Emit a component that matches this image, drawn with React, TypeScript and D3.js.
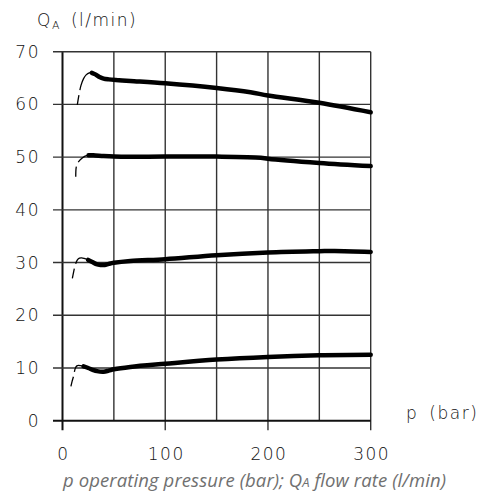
import React from 'react';
import * as d3 from 'd3';

// Axis / grid values
const xGrid = [0, 50, 100, 150, 200, 250, 300];
const xTickLabels = [0, 100, 200, 300];
const yTicks = [0, 10, 20, 30, 40, 50, 60, 70];

// Series 1 (~65 l/min): start-up (thin dashed) and steady (thick)
const s1StartP = [14.4, 16, 18, 20.5, 23, 26, 28.5];
const s1StartQ = [59.9, 61.8, 63.6, 64.9, 65.6, 66.0, 66.0];
const s1P = [28.5, 32, 36, 40, 45, 55, 66, 100, 150, 183, 200, 250, 300];
const s1Q = [66.0, 65.7, 65.2, 64.9, 64.75, 64.6, 64.45, 64.0, 63.1, 62.3, 61.7, 60.3, 58.5];

// Series 2 (~50 l/min)
const s2StartP = [12.9, 13.3, 14.5, 16.3, 19, 22, 25.4];
const s2StartQ = [46.3, 48.0, 48.8, 49.3, 49.8, 50.2, 50.35];
const s2P = [25.4, 30, 40, 50, 66, 100, 150, 193, 200, 250, 300];
const s2Q = [50.35, 50.35, 50.2, 50.1, 50.05, 50.1, 50.1, 49.9, 49.7, 48.9, 48.3];

// Series 3 (~30 l/min)
const s3StartP = [9.6, 10.9, 12.2, 14.5, 16.5, 18.7, 21, 25];
const s3StartQ = [27.0, 28.3, 29.4, 30.5, 30.85, 30.9, 30.8, 30.5];
const s3P = [25, 29, 33, 37, 41, 45, 50, 66, 100, 150, 200, 250, 265, 300];
const s3Q = [30.5, 30.1, 29.7, 29.55, 29.55, 29.75, 29.95, 30.3, 30.65, 31.4, 31.9, 32.15, 32.2, 32.0];

// Series 4 (~10 l/min)
const s4StartP = [8.2, 9.4, 10.7, 12.4, 14, 15.6, 17.5, 20.5];
const s4StartQ = [6.5, 7.5, 8.4, 9.9, 10.4, 10.5, 10.45, 10.3];
const s4P = [20.5, 25, 30, 33.6, 40, 45, 50, 66, 100, 150, 200, 250, 300];
const s4Q = [10.3, 10.0, 9.6, 9.4, 9.3, 9.5, 9.75, 10.2, 10.8, 11.6, 12.1, 12.4, 12.5];

const series = [
  { sp: s1StartP, sq: s1StartQ, p: s1P, q: s1Q },
  { sp: s2StartP, sq: s2StartQ, p: s2P, q: s2Q },
  { sp: s3StartP, sq: s3StartQ, p: s3P, q: s3Q },
  { sp: s4StartP, sq: s4StartQ, p: s4P, q: s4Q },
];

const W = 497;
const H = 495;
const FONT = '"DejaVu Sans", sans-serif';

export default function App() {
  const x = d3.scaleLinear().domain([0, 300]).range([62.5, 370.7]);
  const y = d3.scaleLinear().domain([0, 70]).range([420.7, 51.7]);
  const line = d3
    .line<[number, number]>()
    .x((d) => x(d[0]))
    .y((d) => y(d[1]))
    .curve(d3.curveCatmullRom.alpha(0.5));
  const zip = (a: number[], b: number[]) => a.map((v, i) => [v, b[i]] as [number, number]);

  return (
    <svg
      width={W}
      height={H}
      style={{ position: 'absolute', left: 0, top: 0, background: '#fff' }}
    >
      <rect x={0} y={0} width={W} height={H} fill="#fff" />
      {/* vertical grid lines */}
      {xGrid.map((v) => (
        <line
          key={'vx' + v}
          x1={x(v)}
          x2={x(v)}
          y1={y(70)}
          y2={xTickLabels.includes(v) ? y(0) + 9.5 : y(0)}
          stroke={v === 0 ? '#111' : '#333'}
          strokeWidth={v === 0 ? 2 : 1.4}
        />
      ))}
      {/* horizontal grid lines */}
      {yTicks.map((v) => (
        <line
          key={'hy' + v}
          x1={x(0) - 9.5}
          x2={x(300)}
          y1={y(v)}
          y2={y(v)}
          stroke={v === 0 ? '#111' : '#333'}
          strokeWidth={v === 0 ? 2 : 1.4}
        />
      ))}
      {/* y tick labels */}
      {yTicks.map((v) => (
        <text
          key={'yl' + v}
          x={40}
          y={y(v) + 6}
          textAnchor="end"
          fontFamily={FONT}
          fontWeight={300}
          fontSize={17}
          letterSpacing={1.5}
          fill="#111"
        >
          {v}
        </text>
      ))}
      {/* x tick labels */}
      {xTickLabels.map((v) => (
        <text
          key={'xl' + v}
          x={x(v) + 1}
          y={459.5}
          textAnchor="middle"
          fontFamily={FONT}
          fontWeight={300}
          fontSize={17}
          letterSpacing={1.5}
          fill="#111"
        >
          {v}
        </text>
      ))}
      {/* axis titles */}
      <text x={37} y={25.5} fontFamily={FONT} fontWeight={300} fontSize={17} fill="#111" letterSpacing={1.5}>
        Q
        <tspan fontSize={11} dy={3}>A</tspan>
        <tspan dy={-3} dx={10}>(l/min)</tspan>
      </text>
      <text x={406} y={418.5} fontFamily={FONT} fontWeight={300} fontSize={17} fill="#111" letterSpacing={1.5}>
        p<tspan dx={11}>(bar)</tspan>
      </text>
      {/* curves */}
      {series.map((s, i) => (
        <g key={'s' + i}>
          <path
            d={line(zip(s.sp, s.sq)) || ''}
            fill="none"
            stroke="#000"
            strokeWidth={1.3}
            strokeDasharray="10 5 300"
          />
          <path
            d={line(zip(s.p, s.q)) || ''}
            fill="none"
            stroke="#000"
            strokeWidth={4.5}
            strokeLinecap="round"
            strokeLinejoin="round"
          />
        </g>
      ))}
      {/* caption */}
      <text
        x={63}
        y={487}
        fontFamily='"Open Sans", "Noto Sans", sans-serif'
        fontStyle="italic"
        fontSize={18.5}
        fill="#707070"
        textLength={383}
        lengthAdjust="spacing"
      >
        p operating pressure (bar); Q<tspan fontSize={13}>A</tspan> flow rate (l/min)
      </text>
    </svg>
  );
}
